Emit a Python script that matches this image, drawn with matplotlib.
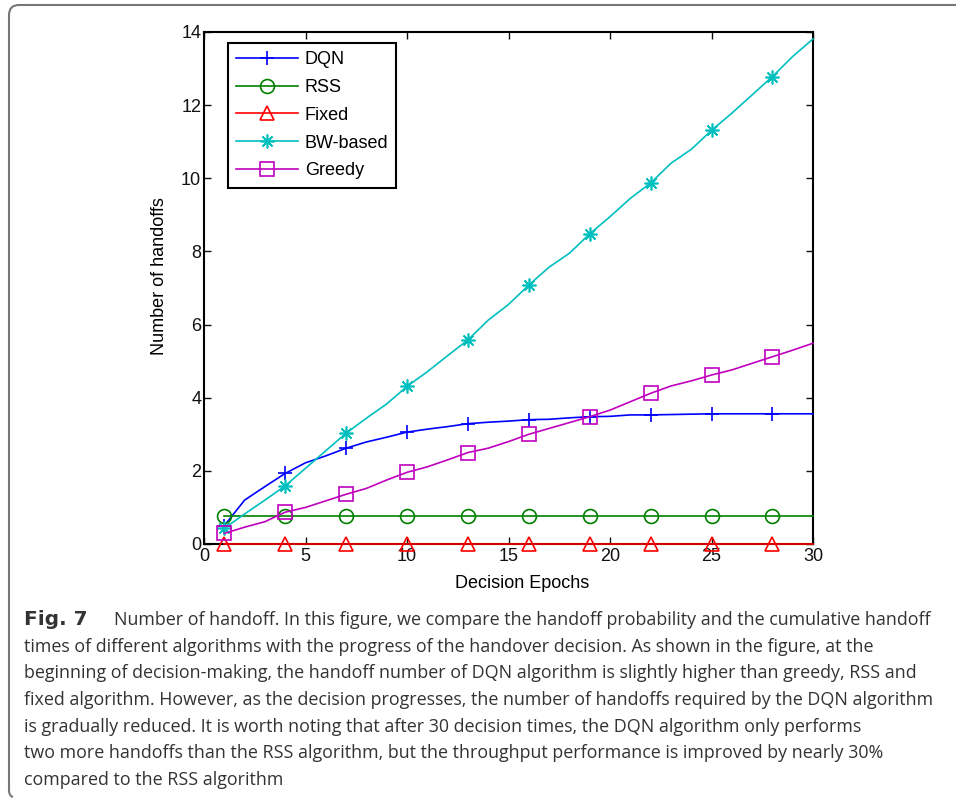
import matplotlib
matplotlib.use("Agg")
import matplotlib.pyplot as plt
from matplotlib.path import Path
from matplotlib.patches import PathPatch

# data
epochs = list(range(1, 31))
dqn = [0.50, 1.20, 1.57, 1.93, 2.22, 2.41, 2.62, 2.79, 2.92, 3.06,
       3.14, 3.21, 3.29, 3.33, 3.36, 3.40, 3.41, 3.45, 3.48, 3.49,
       3.53, 3.53, 3.54, 3.55, 3.56, 3.56, 3.56, 3.56, 3.56, 3.56]
rss = [0.77] * 30
fixed = [0.0] * 30
bw = [0.43, 0.82, 1.20, 1.59, 2.07, 2.55, 3.03, 3.44, 3.83, 4.31,
      4.71, 5.15, 5.58, 6.12, 6.55, 7.08, 7.57, 7.95, 8.48, 8.95,
      9.45, 9.87, 10.41, 10.79, 11.31, 11.78, 12.28, 12.78, 13.33, 13.81]
greedy = [0.29, 0.46, 0.61, 0.87, 1.00, 1.18, 1.36, 1.52, 1.75, 1.96,
          2.11, 2.30, 2.50, 2.62, 2.80, 3.00, 3.16, 3.32, 3.48, 3.66,
          3.89, 4.12, 4.32, 4.46, 4.62, 4.76, 4.94, 5.12, 5.30, 5.49]

caption = [
    "times of different algorithms with the progress of the handover decision. As shown in the figure, at the",
    "beginning of decision-making, the handoff number of DQN algorithm is slightly higher than greedy, RSS and",
    "fixed algorithm. However, as the decision progresses, the number of handoffs required by the DQN algorithm",
    "is gradually reduced. It is worth noting that after 30 decision times, the DQN algorithm only performs",
    "two more handoffs than the RSS algorithm, but the throughput performance is improved by nearly 30%",
    "compared to the RSS algorithm",
]
caption_first = "Number of handoff. In this figure, we compare the handoff probability and the cumulative handoff"

W, H = 956, 798
fig = plt.figure(figsize=(W / 100, H / 100), dpi=100)
plt.rcParams['font.family'] = ['Liberation Sans', 'DejaVu Sans']

ax = fig.add_axes([204 / W, 1 - 544 / H, 609 / W, 512 / H])

series = [
    (dqn, "DQN", (0, 0, 1), "+"),
    (rss, "RSS", (0, 0.5, 0), "o"),
    (fixed, "Fixed", (1, 0, 0), "^"),
    (bw, "BW-based", (0, 0.75, 0.75), (8, 2, 0)),
    (greedy, "Greedy", (0.75, 0, 0.75), "s"),
]
for vals, name, col, mk in series:
    ax.plot(epochs, vals, color=col, lw=1.2, marker=mk, markevery=3,
            markersize=10, markerfacecolor="none", markeredgecolor=col,
            markeredgewidth=1.2, label=name, clip_on=False, zorder=3)

ax.set_xlim(0, 30)
ax.set_ylim(0, 14)
ax.set_xticks(range(0, 31, 5))
ax.set_yticks(range(0, 15, 2))
ax.tick_params(direction="in", top=True, right=True, length=5, width=1,
               labelsize=13, colors="#111111")
ax.tick_params(axis="x", pad=3)
ax.tick_params(axis="y", pad=2)
for s in ax.spines.values():
    s.set_linewidth(1.5)

ax.set_xlabel("Decision Epochs", fontsize=13)
ax.xaxis.set_label_coords((522 - 204) / 609, (544 - 575) / 512)
ax.set_ylabel("Number of handoffs", fontsize=13)
ax.yaxis.set_label_coords((168 - 204) / 609, (544 - 276) / 512)

leg = ax.legend(loc="upper left", bbox_to_anchor=((228 - 204) / 609, (544 - 43) / 512),
                fontsize=13, handlelength=3.4, labelspacing=0.6, borderpad=0.45,
                handletextpad=0.4, fancybox=False, framealpha=1, borderaxespad=0)
leg.get_frame().set_edgecolor("black")
leg.get_frame().set_linewidth(1.5)

# caption
cap_col = "#333333"
cap_size = 12.9
fig.text(24 / W, 1 - 625 / H, "Fig. 7", fontsize=14.5, fontweight="bold",
         family=["DejaVu Sans"], color=cap_col, va="baseline")
fig.text(114 / W, 1 - 625 / H, caption_first, fontsize=cap_size, family=["Open Sans"],
         color=cap_col, va="baseline")
for i, line in enumerate(caption):
    fig.text(24 / W, 1 - (651.7 + 26.67 * i) / H, line, fontsize=cap_size,
             family=["Open Sans"], color=cap_col, va="baseline")

# rounded frame on top-left
px = [(W, 5), (19, 5), (9, 5), (9, 15), (9, 790), (9, 796), (13, 797)]
codes = [Path.MOVETO, Path.LINETO, Path.CURVE3, Path.CURVE3, Path.LINETO,
         Path.CURVE3, Path.CURVE3]
verts = [(x / W, 1 - y / H) for x, y in px]
fig.add_artist(PathPatch(Path(verts, codes), transform=fig.transFigure,
                         facecolor="none", edgecolor="#777777", lw=1.5))

fig.savefig("out.png", dpi=100)
